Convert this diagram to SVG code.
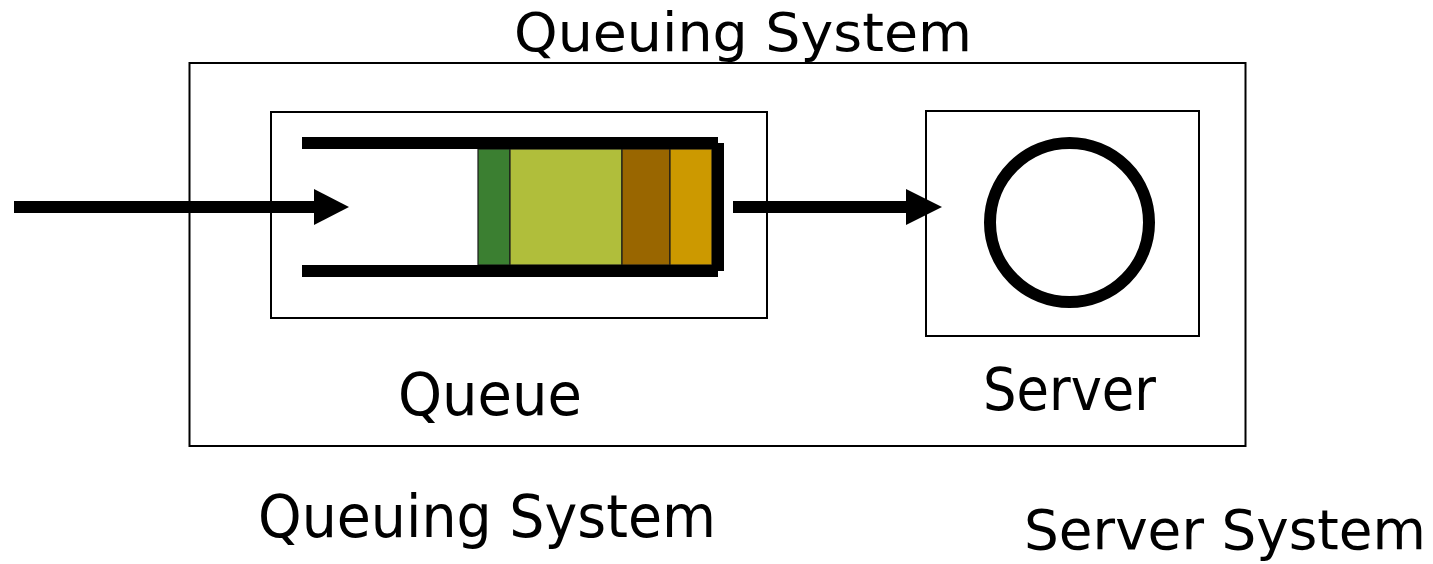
<svg xmlns="http://www.w3.org/2000/svg" width="1433" height="564" viewBox="0 0 1433 564">
  <style>
    .box { fill: none; stroke: #000; stroke-width: 2; }
    .label { font-family: "DejaVu Sans", Verdana, sans-serif; fill: #000; font-size: 59px; }
    .wire { stroke: #000; stroke-width: 12; fill: none; }
    .head { fill: #000; }
    .cell { stroke: #1a1a1a; stroke-width: 1.2; }
  </style>
  <rect width="1433" height="564" fill="#fff"/>

  <!-- queuing system boundary -->
  <g id="queuing-system">
    <rect class="box" x="189.5" y="63" width="1056" height="383"/>
    <text class="label" x="514" y="51" style="font-size:53px" textLength="458" lengthAdjust="spacingAndGlyphs">Queuing System</text>
  </g>

  <!-- queue with waiting jobs -->
  <g id="queue">
    <rect class="box" x="271" y="112" width="496" height="206"/>
    <rect class="cell" x="478" y="149" width="32" height="116" fill="#3b7f31"/>
    <rect class="cell" x="510" y="149" width="112" height="116" fill="#b0be3b"/>
    <rect class="cell" x="622" y="149" width="48" height="116" fill="#996600"/>
    <rect class="cell" x="670" y="149" width="42" height="116" fill="#cc9900"/>
    <path class="wire" d="M302 143H718M302 271H718M718 143V271"/>
    <text class="label" x="398" y="415" textLength="184" lengthAdjust="spacingAndGlyphs">Queue</text>
  </g>

  <!-- server -->
  <g id="server">
    <rect class="box" x="926" y="111" width="273" height="225"/>
    <circle cx="1069.5" cy="222.5" r="79.5" fill="none" stroke="#000" stroke-width="12"/>
    <text class="label" x="983" y="410" textLength="173" lengthAdjust="spacingAndGlyphs">Server</text>
  </g>

  <!-- captions below -->
  <g id="caption-queuing">
    <text class="label" x="258" y="537" textLength="458" lengthAdjust="spacingAndGlyphs">Queuing System</text>
  </g>
  <g id="caption-server">
    <text class="label" x="1024" y="549" style="font-size:55.5px" textLength="402" lengthAdjust="spacingAndGlyphs">Server System</text>
  </g>

  <!-- flow arrows -->
  <g id="connectors">
    <line class="wire" x1="14" y1="207" x2="316" y2="207"/>
    <polygon class="head" points="314,189 349,207 314,225"/>
    <line class="wire" x1="733" y1="207" x2="908" y2="207"/>
    <polygon class="head" points="906,189 942,207 906,225"/>
  </g>
</svg>
